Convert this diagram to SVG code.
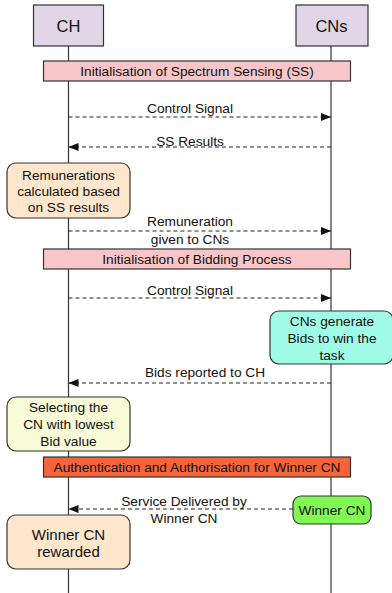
<svg xmlns="http://www.w3.org/2000/svg" width="392" height="593" viewBox="0 0 392 593">
  <style>
    text { font-family: "Liberation Sans", Arial, Helvetica, sans-serif; font-size: 13.7px; fill: #111; text-anchor: middle; dominant-baseline: central; }
    .lifeline { stroke: #333; stroke-width: 1.2; fill: none; }
    .head { fill: #e1d5e7; stroke: #333; stroke-width: 1.2; }
    .banner { stroke: #333; stroke-width: 1.2; }
    .note { stroke: #333; stroke-width: 1.2; }
    .msg { stroke: #222; stroke-width: 1.1; fill: none; stroke-dasharray: 4 3; }
    .title { font-size: 16.5px; }
    .big { font-size: 15px; }
  </style>
  <defs>
    <marker id="arrow" viewBox="0 0 10 8" refX="10" refY="4" markerWidth="10" markerHeight="8" markerUnits="userSpaceOnUse" orient="auto">
      <path d="M0,0 L10,4 L0,8 Z" fill="#111"/>
    </marker>
  </defs>

  <rect width="392" height="593" fill="#ffffff"/>

  <!-- lifelines -->
  <g id="lifelines">
    <line class="lifeline" x1="68.5" y1="46" x2="68.5" y2="593"/>
    <line class="lifeline" x1="331" y1="46" x2="331" y2="593"/>
  </g>

  <!-- participants -->
  <g id="ch">
    <rect class="head" x="33.5" y="5" width="70" height="41"/>
    <text x="68.5" y="26" class="title">CH</text>
  </g>
  <g id="cns">
    <rect class="head" x="296" y="5" width="72" height="41"/>
    <text x="331.5" y="26" class="title">CNs</text>
  </g>

  <!-- phase banners -->
  <g id="banner-ss">
    <rect class="banner" x="43.5" y="61" width="307" height="20" fill="#f8c6c8"/>
    <text x="197" y="71">Initialisation of Spectrum Sensing (SS)</text>
  </g>
  <g id="banner-bidding">
    <rect class="banner" x="43.5" y="249" width="307" height="20" fill="#f8c6c8"/>
    <text x="197" y="259">Initialisation of Bidding Process</text>
  </g>
  <g id="banner-auth">
    <rect class="banner" x="43.5" y="457" width="307" height="20" fill="#f7643a"/>
    <text x="197" y="467">Authentication and Authorisation for Winner CN</text>
  </g>

  <!-- activity notes -->
  <g id="remunerations">
    <rect class="note" x="7" y="163" width="123" height="55" rx="9" fill="#ffe6cc"/>
    <text x="68.5" y="175">Remunerations</text>
    <text x="68.5" y="191">calculated based</text>
    <text x="68.5" y="207">on SS results</text>
  </g>
  <g id="generate-bids">
    <rect class="note" x="270" y="311" width="123" height="53" rx="9" fill="#a0fbe6"/>
    <text x="332" y="321">CNs generate</text>
    <text x="332" y="338">Bids to win the</text>
    <text x="332" y="355">task</text>
  </g>
  <g id="selecting">
    <rect class="note" x="7" y="397" width="123" height="54" rx="9" fill="#f9fad7"/>
    <text x="68.5" y="407">Selecting the</text>
    <text x="68.5" y="424">CN with lowest</text>
    <text x="68.5" y="441">Bid value</text>
  </g>
  <g id="winner-cn">
    <rect class="note" x="293" y="496" width="78" height="28" rx="8" fill="#80fa52"/>
    <text x="332" y="510">Winner CN</text>
  </g>
  <g id="rewarded">
    <rect class="note" x="7" y="515" width="123" height="54" rx="9" fill="#ffe6cc"/>
    <text x="68.5" y="534" class="big">Winner CN</text>
    <text x="68.5" y="551" class="big">rewarded</text>
  </g>

  <!-- messages -->
  <g id="connectors">
    <line class="msg" x1="68.5" y1="117" x2="331" y2="117" marker-end="url(#arrow)"/>
    <line class="msg" x1="331" y1="147" x2="68.5" y2="147" marker-end="url(#arrow)"/>
    <line class="msg" x1="68.5" y1="231" x2="331" y2="231" marker-end="url(#arrow)"/>
    <line class="msg" x1="68.5" y1="298" x2="331" y2="298" marker-end="url(#arrow)"/>
    <line class="msg" x1="331" y1="383" x2="68.5" y2="383" marker-end="url(#arrow)"/>
    <line class="msg" x1="293" y1="509" x2="68.5" y2="509" marker-end="url(#arrow)"/>
  </g>

  <!-- message labels -->
  <g id="labels">
    <text x="190" y="108">Control Signal</text>
    <text x="190" y="141">SS Results</text>
    <text x="190" y="221">Remuneration</text>
    <text x="190" y="239">given to CNs</text>
    <text x="190" y="290">Control Signal</text>
    <text x="205" y="372">Bids reported to CH</text>
    <text x="184" y="501">Service Delivered by</text>
    <text x="184" y="518">Winner CN</text>
  </g>
</svg>
